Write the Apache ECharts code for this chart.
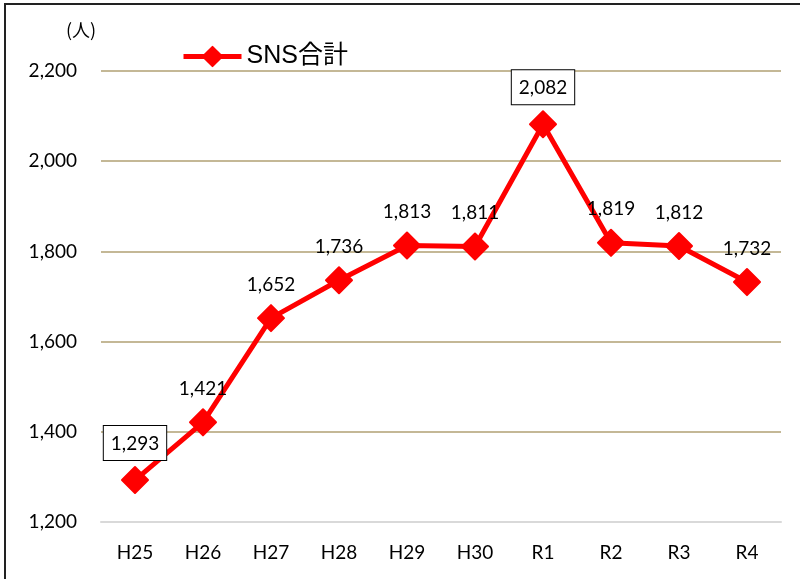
<!DOCTYPE html>
<html><head><meta charset="utf-8">
<script src="https://cdn.jsdelivr.net/npm/echarts@6/dist/echarts.min.js"></script>
<style>html,body{margin:0;padding:0;background:#fff}#c{width:800px;height:579px}</style>
</head><body><div id="c"></div>
<script>
const categories = ['H25','H26','H27','H28','H29','H30','R1','R2','R3','R4'];
const values = [1293,1421,1652,1736,1813,1811,2082,1819,1812,1732];
const boxedIndexes = [0,6];
const seriesName = 'SNS合計';
const unitLabel = '(人)';

const chart = echarts.init(document.getElementById('c'));
const data = values.map((v,i)=> boxedIndexes.includes(i) ? {
  value: v,
  label: {borderColor:'#000', borderWidth:1, padding:[8,7,7,7], backgroundColor:'#fff', distance:6}
} : v);
chart.setOption({
  animation:false,
  textStyle:{fontFamily:'Lato, "Noto Sans", sans-serif'},
  graphic:[
    {type:'rect', shape:{x:5,y:4,width:900,height:700}, style:{fill:'none', stroke:'#222', lineWidth:2}, z:-1},
    {type:'text', left:66, top:21, style:{text:unitLabel, font:'18px "Noto Sans CJK JP", sans-serif', fill:'#000'}}
  ],
  legend:{
    data:[seriesName], left:176, top:39, itemWidth:58, itemHeight:24, itemGap:5,
    lineStyle:{width:5},
    textStyle:{fontSize:25, color:'#000', fontFamily:'"Liberation Sans", "Noto Sans CJK JP", sans-serif'}
  },
  grid:{left:101, right:19, top:71, bottom:57},
  xAxis:{
    type:'category', data:categories, boundaryGap:true,
    axisLine:{lineStyle:{color:'#d9d9d9', width:2}},
    axisTick:{show:false},
    axisLabel:{color:'#000', fontSize:19, margin:21}
  },
  yAxis:{
    type:'value', min:1200, max:2200, interval:200,
    axisLine:{show:false}, axisTick:{show:false},
    splitLine:{lineStyle:{color:'#c4b896', width:2}},
    axisLabel:{color:'#000', fontSize:19, margin:24,
      formatter:v=>v.toLocaleString('en-US')}
  },
  series:[{
    name:seriesName, type:'line', data:data,
    symbol:'diamond', symbolSize:26,
    lineStyle:{color:'#ff0000', width:5},
    itemStyle:{color:'#ff0000', borderColor:'#ff0000', borderWidth:2, borderJoin:'round'},
    label:{show:true, position:'top', distance:10, color:'#000', fontSize:19,
      formatter:p=>p.value.toLocaleString('en-US')}
  }]
});
</script></body></html>
